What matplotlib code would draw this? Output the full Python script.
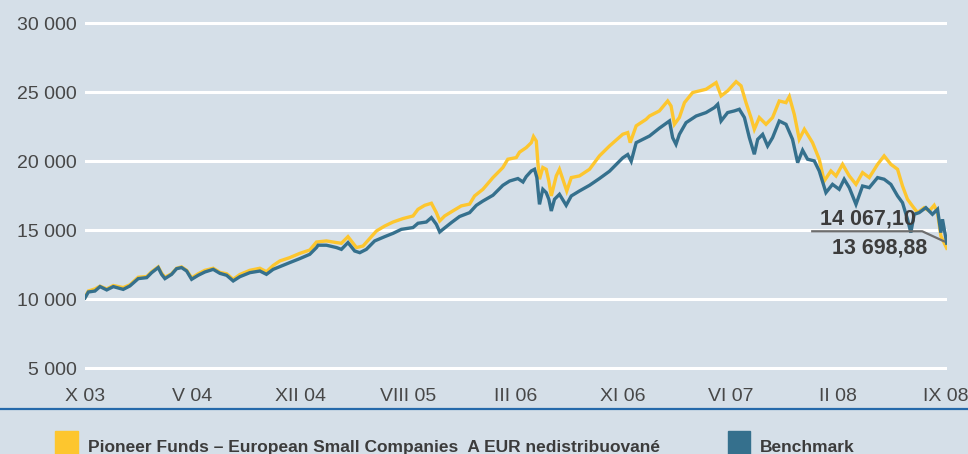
import matplotlib
matplotlib.use("Agg")
import matplotlib.pyplot as plt
from matplotlib.lines import Line2D
from matplotlib.patches import Rectangle
import numpy as np

# months since X 03
fund_months = [0, 0.23, 0.68, 1.03, 1.49, 1.94, 2.62, 3.08, 3.65, 4.23,
               4.57, 5.02, 5.25, 5.48, 5.94, 6.28, 6.62, 6.97, 7.31, 7.76,
               8.22, 8.79, 9.25, 9.71, 10.16, 10.62, 11.3, 11.99, 12.44, 12.9,
               13.36, 14.04, 14.73, 15.41, 15.87, 16.55, 17.24, 17.58, 18.03, 18.61,
               19.06, 19.98, 20.55, 21.12, 21.8, 22.49, 22.83, 23.29, 23.75, 24.09,
               24.32, 24.66, 25.23, 25.8, 26.37, 26.71, 27.28, 27.97, 28.65, 28.99,
               29.57, 29.79, 30.25, 30.6, 30.75, 30.94, 31.05, 31.16, 31.39, 31.62,
               31.8, 31.97, 32.31, 32.53, 32.76, 33.03, 33.34, 33.9, 34.59, 35.27,
               35.96, 36.87, 37.21, 37.38, 37.79, 38.47, 38.7, 39.38, 39.95, 40.18,
               40.41, 40.75, 41.1, 41.66, 42.58, 43.27, 43.61, 44.06, 44.64, 44.98,
               45.32, 45.66, 45.89, 46.23, 46.69, 47.14, 47.6, 48.06, 48.29, 48.63,
               48.97, 49.32, 49.88, 50.34, 50.68, 51.14, 51.49, 51.94, 52.4, 52.86,
               53.31, 53.77, 54.34, 54.79, 55.25, 55.71, 56.05, 56.39, 56.73, 57.08,
               57.53, 57.88, 58.22, 58.45, 58.68, 59.08]
fund_values = [10150, 10600, 10750, 10950, 10750, 11000, 10850, 11050, 11600, 11650,
               12000, 12350, 11900, 11600, 11850, 12250, 12350, 12100, 11550, 11850,
               12100, 12250, 11950, 11850, 11450, 11800, 12100, 12250, 12000, 12450,
               12780, 13020, 13330, 13570, 14150, 14230, 14110, 14060, 14540, 13750,
               13860, 14950, 15310, 15600, 15850, 16040, 16520, 16810, 16960, 16280,
               15680, 16040, 16410, 16770, 16900, 17490, 17970, 18820, 19550, 20150,
               20270, 20660, 20990, 21350, 21790, 21470, 19900, 18700, 19550, 19420,
               18570, 17490, 18940, 19420, 18700, 17850, 18820, 18940, 19420, 20390,
               21110, 21960, 22080, 21350, 22570, 23040, 23280, 23650, 24370, 24010,
               22680, 23170, 24250, 24980, 25220, 25700, 24740, 25100, 25770, 25470,
               24250, 23170, 22320, 23170, 22680, 23170, 24370, 24250, 24690, 23400,
               21600, 22320, 21350, 20150, 18570, 19300, 18940, 19780, 18940, 18330,
               19180, 18820, 19780, 20390, 19780, 19420, 18210, 17250, 16760, 16280,
               16640, 16400, 16810, 16280, 14590, 13698.88]

bench_months = [0, 0.23, 0.68, 1.03, 1.49, 1.94, 2.62, 3.08, 3.65, 4.23,
                4.57, 5.02, 5.25, 5.48, 5.94, 6.28, 6.62, 6.97, 7.31, 7.76,
                8.22, 8.79, 9.25, 9.71, 10.16, 10.62, 11.3, 11.99, 12.44, 12.9,
                13.36, 14.04, 14.73, 15.41, 15.87, 15.98, 16.55, 17.24, 17.58, 18.03,
                18.49, 18.84, 19.29, 19.86, 20.55, 21.12, 21.69, 22.49, 22.83, 23.4,
                23.75, 24.09, 24.32, 24.54, 25.12, 25.68, 26.37, 26.83, 27.28, 27.97,
                28.65, 29.11, 29.68, 30.03, 30.25, 30.6, 30.82, 30.98, 31.16, 31.39,
                31.62, 31.8, 31.97, 32.19, 32.53, 32.99, 33.34, 33.9, 34.59, 35.27,
                35.96, 36.87, 37.21, 37.45, 37.79, 38.47, 38.7, 39.38, 40.07, 40.29,
                40.52, 40.75, 41.21, 41.9, 42.58, 43.15, 43.38, 43.61, 44.06, 44.52,
                44.86, 45.21, 45.55, 45.89, 46.12, 46.46, 46.8, 47.14, 47.6, 48.06,
                48.51, 48.86, 49.2, 49.54, 50.0, 50.34, 50.8, 51.25, 51.71, 52.05,
                52.4, 52.86, 53.31, 53.77, 54.34, 54.79, 55.25, 55.71, 56.05, 56.39,
                56.62, 56.85, 57.19, 57.65, 58.1, 58.45, 58.68, 58.79, 59.08]
bench_values = [10100, 10530, 10600, 10920, 10680, 10920, 10720, 10970, 11500, 11570,
                11930, 12300, 11810, 11500, 11810, 12220, 12300, 12050, 11450, 11740,
                11980, 12170, 11880, 11740, 11330, 11640, 11930, 12050, 11810, 12170,
                12370, 12660, 12950, 13260, 13750, 13920, 13920, 13750, 13620, 14110,
                13500, 13380, 13620, 14230, 14540, 14780, 15070, 15200, 15510, 15600,
                15920, 15430, 14880, 15070, 15560, 16000, 16280, 16810, 17120, 17540,
                18260, 18570, 18750, 18500, 18890, 19300, 19420, 18820, 16880, 17970,
                17730, 17250, 16400, 17250, 17610, 16810, 17490, 17850, 18260, 18750,
                19280, 20250, 20490, 20000, 21350, 21710, 21830, 22400, 22920, 21710,
                21230, 21950, 22800, 23280, 23530, 23890, 24130, 22920, 23530, 23650,
                23770, 23170, 21710, 20510, 21590, 21950, 21110, 21710, 22920, 22680,
                21590, 19900, 20800, 20150, 20030, 19300, 17730, 18330, 17970, 18700,
                18090, 16880, 18210, 18090, 18820, 18700, 18330, 17490, 17000, 15800,
                14830, 16160, 16280, 16640, 16160, 16520, 14830, 15800, 14067.10]

tick_labels = ["X 03", "V 04", "XII 04", "VIII 05", "III 06", "XI 06", "VI 07", "II 08", "IX 08"]
y_ticks = [5000, 10000, 15000, 20000, 25000, 30000]
fund_name = "Pioneer Funds – European Small Companies  A EUR nedistribuované"
bench_name = "Benchmark"
label_fund_end = "14 067,10"
label_bench_end = "13 698,88"

bg = "#d5dfe8"
yellow = "#fdc62e"
blue = "#35708d"
txt = "#474747"

W, H = 968, 454
fig = plt.figure(figsize=(W / 100, H / 100), dpi=100, facecolor=bg)
ax = fig.add_axes([85 / W, (H - 369.7) / H, 862 / W, (369.7 - 21.9) / H])
ax.set_facecolor(bg)

ax.plot(fund_months, fund_values, color=yellow, lw=2.4, solid_joinstyle="miter", zorder=3)
ax.plot(bench_months, bench_values, color=blue, lw=2.4, solid_joinstyle="miter", zorder=4)

ax.set_xlim(0, 59.1)
ax.set_ylim(4900, 30100)
ax.set_yticks(y_ticks)
ax.set_yticklabels([f"{v:,}".replace(",", " ") for v in y_ticks])
ax.set_xticks(np.linspace(0, 59, len(tick_labels)))
ax.set_xticklabels(tick_labels)
ax.yaxis.grid(True, color="white", lw=2.2)
ax.set_axisbelow(True)
for s in ax.spines.values():
    s.set_visible(False)
ax.tick_params(axis="both", length=0, labelsize=14, labelcolor=txt)
ax.tick_params(axis="y", pad=6)
ax.tick_params(axis="x", pad=13)
for lab in ax.get_xticklabels() + ax.get_yticklabels():
    lab.set_fontfamily("Liberation Sans")

# end value labels with pointer line
ax.plot([49.86, 57.4, 58.9], [14930, 14930, 14200], color="#6e6e6e", lw=1.6, zorder=5)
ax.text(53.7, 15440, label_fund_end, ha="center", va="baseline", fontsize=15.5,
        fontweight="bold", color="#3c3c3c", family="Liberation Sans", zorder=6)
ax.text(54.45, 13330, label_bench_end, ha="center", va="baseline", fontsize=15.5,
        fontweight="bold", color="#3c3c3c", family="Liberation Sans", zorder=6)

# bottom rule and legend
fig.add_artist(Line2D([0, 1], [(H - 409) / H] * 2, transform=fig.transFigure,
                      color="#2569aa", lw=1.6))
fig.add_artist(Rectangle((55 / W, -0.02), 23 / W, 23 / H + 0.02, transform=fig.transFigure,
                         color=yellow))
fig.add_artist(Rectangle((728 / W, -0.02), 22 / W, 23 / H + 0.02, transform=fig.transFigure,
                         color=blue))
fig.text(88 / W, 2 / H, fund_name, ha="left", va="baseline", fontsize=12.5,
         fontweight="bold", color="#3c3c3c", family="Liberation Sans")
fig.text(760 / W, 2 / H, bench_name, ha="left", va="baseline", fontsize=12.5,
         fontweight="bold", color="#3c3c3c", family="Liberation Sans")

fig.savefig("out.png", dpi=100, facecolor=bg)
